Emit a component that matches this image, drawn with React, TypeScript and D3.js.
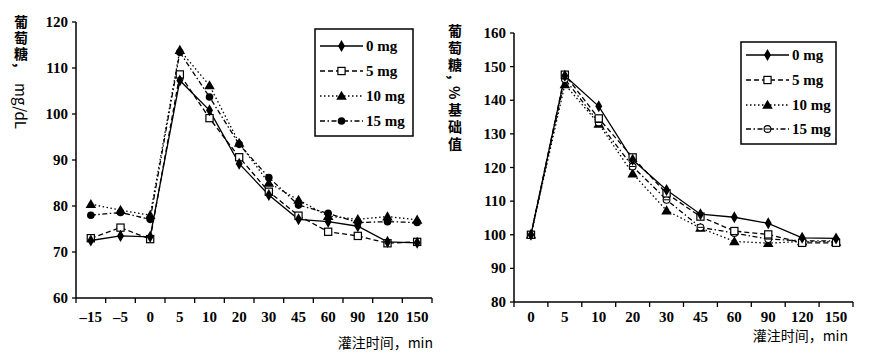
import React from 'react';
import * as d3 from 'd3';

const leftCategories = ['-15', '-5', '0', '5', '10', '20', '30', '45', '60', '90', '120', '150'];
const leftTickLabels = ['–15', '–5', '0', '5', '10', '20', '30', '45', '60', '90', '120', '150'];
const leftYTicks = [60, 70, 80, 90, 100, 110, 120];
const left0mg = [72.5, 73.5, 73.3, 107.3, 100.8, 89.2, 82.4, 77.1, 76.6, 75.6, 72.2, 72.0];
const left5mg = [73.0, 75.3, 72.8, 108.6, 99.1, 90.6, 83.1, 77.9, 74.4, 73.5, 71.9, 72.2];
const left10mg = [80.4, 79.1, 78.0, 113.9, 106.2, 93.7, 85.0, 81.3, 77.8, 77.1, 77.7, 77.0];
const left15mg = [78.0, 78.6, 77.1, 113.4, 103.7, 93.4, 86.2, 80.2, 78.4, 76.4, 76.6, 76.4];

const rightCategories = ['0', '5', '10', '20', '30', '45', '60', '90', '120', '150'];
const rightYTicks = [80, 90, 100, 110, 120, 130, 140, 150, 160];
const right0mg = [100, 147.3, 138.2, 122.3, 113.3, 106.1, 105.2, 103.4, 99.1, 98.9];
const right5mg = [100, 147.6, 134.6, 123.0, 112.3, 105.4, 101.1, 100.1, 97.6, 97.6];
const right10mg = [100, 144.7, 133.0, 118.2, 107.2, 102.0, 98.0, 97.5, 98.0, 97.9];
const right15mg = [100, 146.3, 133.4, 120.3, 110.4, 102.2, 100.5, 98.7, 98.2, 98.2];

const seriesNames = ['0 mg', '5 mg', '10 mg', '15 mg'];

const SERIF = '"Liberation Serif", "Times New Roman", serif';
const CJK = '"Noto Sans CJK SC", "Noto Sans", sans-serif';

type MarkerKind = 'diamond' | 'square' | 'triangle' | 'circle' | 'theta';
const dashes = [undefined, '5,3', '1.5,2.5', '5,2.5,1.5,2.5'];

function Marker({ kind, x, y }: { kind: MarkerKind; x: number; y: number }) {
  if (kind === 'diamond') {
    const p = d3.symbol().type(d3.symbolDiamond).size(42)();
    return <path d={p || ''} transform={`translate(${x},${y})`} fill="#000" />;
  }
  if (kind === 'square') {
    return <rect x={x - 3.6} y={y - 3.6} width={7.2} height={7.2} fill="#fff" stroke="#000" strokeWidth={1.2} />;
  }
  if (kind === 'triangle') {
    const p = d3.symbol().type(d3.symbolTriangle).size(48)();
    return <path d={p || ''} transform={`translate(${x},${y + 0.8})`} fill="#000" />;
  }
  if (kind === 'circle') {
    return <circle cx={x} cy={y} r={3.8} fill="#000" />;
  }
  return (
    <g>
      <circle cx={x} cy={y} r={3.4} fill="#fff" stroke="#000" strokeWidth={1.1} />
      <line x1={x - 3} x2={x + 3} y1={y} y2={y} stroke="#000" strokeWidth={1} />
    </g>
  );
}

type PanelProps = {
  categories: string[];
  tickLabels: string[];
  yTicks: number[];
  series: number[][];
  markers: MarkerKind[];
  xRange: [number, number];
  yDomain: [number, number];
  yRange: [number, number];
  labelOffset: number;
  legend: { x: number; y: number; w: number; h: number; rows: number[] };
  title: { x: number; y: number };
};

function Panel(props: PanelProps) {
  const { categories, tickLabels, yTicks, series, markers, xRange, yDomain, yRange, labelOffset, legend, title } = props;
  const x = d3.scaleBand<string>().domain(categories).range(xRange).paddingInner(0).paddingOuter(0);
  const y = d3.scaleLinear().domain(yDomain).range(yRange);
  const bw = x.bandwidth();
  const cx = (c: string) => (x(c) as number) + bw / 2;
  const line = d3
    .line<number>()
    .x((_, i) => cx(categories[i]))
    .y((d) => y(d));
  const x0 = xRange[0];
  const yb = yRange[0];
  const boundaries = d3.range(categories.length + 1).map((i) => x0 + i * bw);

  const order = [2, 3, 1, 0];
  return (
    <g>
      <line x1={x0} x2={x0} y1={yRange[1]} y2={yb} stroke="#000" strokeWidth={1.5} />
      <line x1={x0} x2={xRange[1]} y1={yb} y2={yb} stroke="#000" strokeWidth={1.5} />
      {yTicks.map((t) => (
        <g key={'yt' + t}>
          <line x1={x0 - 4} x2={x0} y1={y(t)} y2={y(t)} stroke="#000" strokeWidth={1.3} />
          <text x={x0 - 8} y={y(t) + 5} textAnchor="end" fontFamily={SERIF} fontWeight="bold" fontSize={15}>
            {t}
          </text>
        </g>
      ))}
      {boundaries.map((bx, i) => (
        <line key={'xt' + i} x1={bx} x2={bx} y1={yb} y2={yb + 5} stroke="#000" strokeWidth={1.3} />
      ))}
      {categories.map((c, i) => (
        <text key={'xl' + c} x={cx(c)} y={yb + labelOffset} textAnchor="middle" fontFamily={SERIF} fontWeight="bold" fontSize={15}>
          {tickLabels[i]}
        </text>
      ))}
      <text x={title.x} y={title.y} textAnchor="end" fontFamily={CJK} fontSize={14}>
        灌注时间，min
      </text>
      {order.map((si) => (
        <path
          key={'l' + si}
          d={line(series[si]) || ''}
          fill="none"
          stroke="#000"
          strokeWidth={1.3}
          strokeDasharray={dashes[si]}
        />
      ))}
      {order.map((si) =>
        series[si].map((v, i) => <Marker key={'m' + si + '-' + i} kind={markers[si]} x={cx(categories[i])} y={y(v)} />)
      )}
      <rect x={legend.x} y={legend.y} width={legend.w} height={legend.h} fill="#fff" stroke="#000" strokeWidth={1.5} />
      {seriesNames.map((n, i) => {
        const ry = legend.rows[i];
        const lx1 = legend.x + 5;
        const lx2 = legend.x + 48;
        const mx = (lx1 + lx2) / 2;
        return (
          <g key={'lg' + i}>
            <line x1={lx1} x2={lx2} y1={ry} y2={ry} stroke="#000" strokeWidth={1.3} strokeDasharray={dashes[i]} />
            <Marker kind={markers[i]} x={mx} y={ry} />
            <text x={lx2 + 3} y={ry + 5} fontFamily={SERIF} fontWeight="bold" fontSize={15}>
              {n}
            </text>
          </g>
        );
      })}
    </g>
  );
}

function VText({ x, y, text, size, spacing, bold }: { x: number; y: number; text: string; size: number; spacing: number; bold?: boolean }) {
  return (
    <text
      x={x}
      y={y}
      style={{ writingMode: 'vertical-rl' as any }}
      fontFamily={CJK}
      fontWeight={bold ? 'bold' : 'normal'}
      fontSize={size}
      letterSpacing={spacing}
    >
      {text}
    </text>
  );
}

export default function App() {
  return (
    <svg
      width={871}
      height={359}
      viewBox="0 0 871 359"
      style={{ position: 'absolute', left: 0, top: 0, background: '#fff' }}
    >
      <rect x={0} y={0} width={871} height={359} fill="#fff" />
      <VText x={21} y={15} text="葡萄糖," size={14} spacing={2} bold />
      <VText x={21} y={83} text="mg/dL" size={15} spacing={0} />
      <VText x={455} y={24} text="葡萄糖," size={14} spacing={3} bold />
      <VText x={455} y={86} text="%基础值" size={14} spacing={3} bold />

      <Panel
        categories={leftCategories}
        tickLabels={leftTickLabels}
        yTicks={leftYTicks}
        series={[left0mg, left5mg, left10mg, left15mg]}
        markers={['diamond', 'square', 'triangle', 'circle']}
        xRange={[76, 432]}
        yDomain={[60, 120]}
        yRange={[298, 22]}
        labelOffset={24}
        legend={{ x: 315, y: 29, w: 98, h: 107, rows: [46, 71, 96, 121] }}
        title={{ x: 433, y: 348 }}
      />
      <Panel
        categories={rightCategories}
        tickLabels={rightCategories}
        yTicks={rightYTicks}
        series={[right0mg, right5mg, right10mg, right15mg]}
        markers={['diamond', 'square', 'triangle', 'theta']}
        xRange={[514, 853]}
        yDomain={[80, 160]}
        yRange={[302, 33]}
        labelOffset={20}
        legend={{ x: 741, y: 42, w: 95, h: 102, rows: [55, 80, 105, 129] }}
        title={{ x: 848, y: 341 }}
      />
    </svg>
  );
}
